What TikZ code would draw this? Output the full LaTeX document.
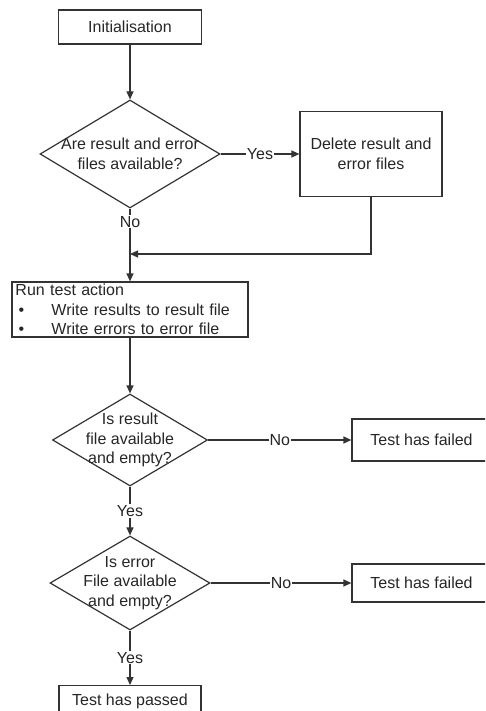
\documentclass[tikz,border=0pt]{standalone}
\usepackage{fontspec}
\setmainfont{Liberation Sans}
\usetikzlibrary{shapes.geometric,arrows.meta}

\begin{document}
\begin{tikzpicture}[x=1pt, y=-1pt, line width=1.2pt, >={Triangle[length=8pt,width=7pt]},
    every node/.style={font=\fontsize{16}{19.5}\selectfont, text=black!85},
    box/.style={draw=black!80, inner sep=0pt, align=center},
    dec/.style={draw=black!80, diamond, inner sep=0pt},
    lbl/.style={fill=white, inner sep=1pt},
    lnk/.style={->, draw=black!80}]
    \clip (0,0) rectangle (485,711);

    \node[box, minimum width=143pt, minimum height=34pt] (init) at (130,27) {Initialisation};
    \node[dec, minimum width=180pt, minimum height=108pt] (d1) at (130,154) {};
    \node[align=center] (d1t) at (d1) {Are result and error\\files available?};
    \node[box, minimum width=142pt, minimum height=85pt] (del) at (371,154) {Delete result and\\error files};
    \coordinate (m) at (130,254);
    \node[box, minimum width=236pt, minimum height=55pt, text width=229pt, align=left] (run) at (130,309.5)
        {Run test action\\
         \hspace*{3pt}\makebox[33pt][l]{\textbullet}Write results to result file\\
         \hspace*{3pt}\makebox[33pt][l]{\textbullet}Write errors to error file};

    \node[dec, minimum width=155pt, minimum height=92pt] (d2) at (130,440) {};
    \node[align=center] (d2t) at (d2) {Is result\\file available\\and empty?};
    \node[box, minimum width=139pt, minimum height=42pt] (fail1) at (421.5,440) {Test has failed};

    \node[dec, minimum width=160pt, minimum height=94pt] (d3) at (130,583) {};
    \node[align=center] (d3t) at (d3) {Is error\\File available\\and empty?};
    \node[box, minimum width=139pt, minimum height=38pt] (fail2) at (421.5,583) {Test has failed};

    \node[box, minimum width=142pt, minimum height=32pt, anchor=north] (pass) at (130,685) {Test has passed};

    \draw[lnk] (init) -- (d1);
    \draw[lnk] (d1) -- node[lbl] {Yes} (del);
    \draw[lnk] (del) |- (m);
    \draw[lnk] (d1) -- node[lbl, pos=0.18] {No} (run);
    \draw[lnk] (run) -- (d2);
    \draw[lnk] (d2) -- node[lbl] {No} (fail1);
    \draw[lnk] (d2) -- node[lbl] {Yes} (d3);
    \draw[lnk] (d3) -- node[lbl] {No} (fail2);
    \draw[lnk] (d3) -- node[lbl] {Yes} (pass);
\end{tikzpicture}
\end{document}
